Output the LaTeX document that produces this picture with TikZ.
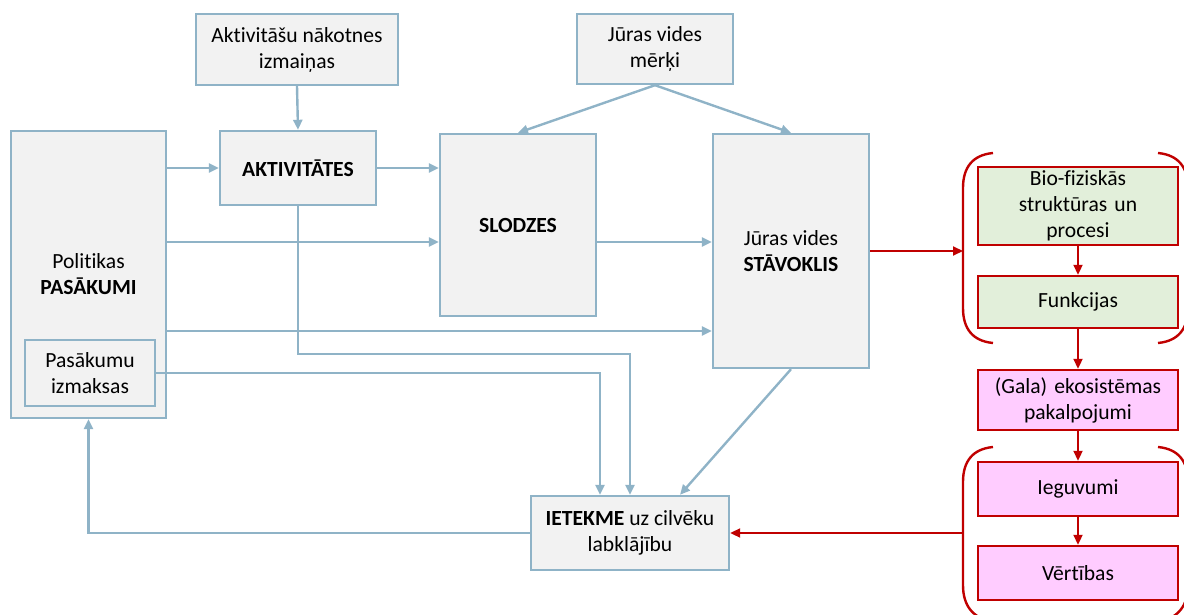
\documentclass[tikz,border=0pt]{standalone}
\usepackage{fontspec}
\setmainfont[Ligatures=NoCommon]{Carlito}
\usetikzlibrary{arrows.meta,positioning,calc}
\definecolor{linegray}{HTML}{8FB3C7}
\definecolor{boxfill}{HTML}{F2F2F2}
\definecolor{darkred}{HTML}{C00000}
\definecolor{greenfill}{HTML}{E2EFDA}
\definecolor{pinkfill}{HTML}{FFCCFF}
\tikzset{
  >={Triangle[length=5pt,width=4.5pt]},
  block/.style={draw=linegray, fill=boxfill, line width=1.2pt, align=center, inner sep=2pt,
                font=\fontsize{10.8}{13}\selectfont},
  redblock/.style={block, draw=darkred, minimum width=100pt, text width=92pt},
  line/.style={draw=linegray, line width=1.2pt, ->},
  redline/.style={draw=darkred, line width=1pt, ->},
  bracket/.style={draw=darkred, line width=1.2pt}
}

\begin{document}
\begin{tikzpicture}[x=0.5pt,y=-0.5pt]
  \useasboundingbox (0,0) rectangle (1184,615);

  % Draw diagram elements
  \node (fut) [block, minimum width=101pt, minimum height=35.5pt] at (297,49.5) {Aktivitāšu nākotnes\\izmaiņas};
  \node (goal) [block, minimum width=78pt, minimum height=35pt] at (655,49) {Jūras vides\\mērķi};
  \node (meas) [block, minimum width=77.5pt, minimum height=143.5pt] at (88.5,274.5) {Politikas\\\textbf{PASĀKUMI}};
  \node (cost) [block, minimum width=65pt, minimum height=33pt] at (90,373) {Pasākumu\\izmaksas};
  \node (act) [block, minimum width=78pt, minimum height=37pt] at (298,168) {\textbf{AKTIVITĀTES}};
  \node (press) [block, minimum width=78pt, minimum height=91pt] at (518,225) {\textbf{SLODZES}};
  \node (state) [block, minimum width=78pt, minimum height=117pt] at (791,251) {Jūras vides\\\textbf{STĀVOKLIS}};
  \node (impact) [block, minimum width=99pt, minimum height=37pt] at (630,533) {\textbf{IETEKME} uz cilvēku\\labklājību};

  \node (bio) [redblock, fill=greenfill, minimum height=38pt] at (1078,206) {Bio-fiziskās\\struktūras un\\procesi};
  \node (func) [redblock, fill=greenfill, minimum height=26pt] at (1078,302) {Funkcijas};
  \node (serv) [redblock, fill=pinkfill, minimum height=30pt] at (1078,400) {(Gala) ekosistēmas\\pakalpojumi};
  \node (ben) [redblock, fill=pinkfill, minimum height=27pt] at (1078,489) {Ieguvumi};
  \node (val) [redblock, fill=pinkfill, minimum height=27pt] at (1078,573) {Vērtības};

  % Draw brackets
  \coordinate (brA) at (963,251);
  \coordinate (brB) at (963,533);
  \draw [bracket] (993,153) .. controls (972,155) and (963,168) .. (963,188) -- (963,308)
    .. controls (963,328) and (972,341) .. (993,343);
  \draw [bracket] (1158,153) .. controls (1179,155) and (1188,168) .. (1188,188) -- (1188,308)
    .. controls (1188,328) and (1179,341) .. (1158,343);
  \draw [bracket] (993,447) .. controls (972,449) and (963,462) .. (963,482) -- (963,585)
    .. controls (963,605) and (972,618) .. (993,622);
  \draw [bracket] (1158,447) .. controls (1179,449) and (1188,462) .. (1188,482) -- (1188,585)
    .. controls (1188,605) and (1179,618) .. (1158,622);

  % Draw arrows between elements
  \path [line] (fut.south) -- (act.north);
  \path [line] (goal.south) -- (press.north);
  \path [line] (goal.south) -- (state.north);
  \path [line] (meas.east |- act.west) -- (act.west);
  \path [line] (meas.east |- 0,242) -- (press.west |- 0,242);
  \path [line] (meas.east |- 0,331) -- (state.west |- 0,331);
  \path [line] (act.east) -- (press.west |- act.east);
  \path [line] (press.east |- 0,242) -- (state.west |- 0,242);
  \path [line] (cost.east) -| ([xshift=-15pt]impact.north);
  \path [line] (act.south) -- ++(0,148) -| (impact.north);
  \path [line] (state.south) -- ([xshift=25pt]impact.north);
  \path [line] (impact.west) -| (meas.south);

  \path [redline] (state.east) -- (brA);
  \path [redline] (bio.south) -- (func.north);
  \path [redline] (func.south) -- (serv.north);
  \path [redline] (serv.south) -- (ben.north);
  \path [redline] (ben.south) -- (val.north);
  \path [redline] (brB) -- (impact.east);
\end{tikzpicture}
\end{document}
